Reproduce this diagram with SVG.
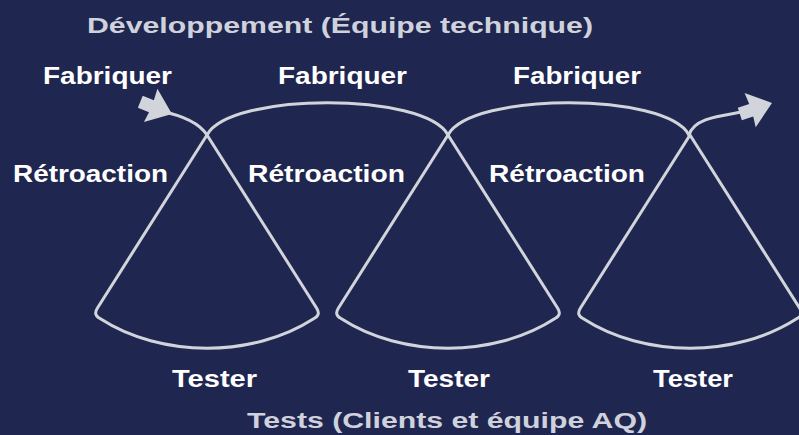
<svg xmlns="http://www.w3.org/2000/svg" width="799" height="435" viewBox="0 0 799 435">
<defs>
<style>
.bg{fill:#1f264f}
.ln{fill:none;stroke:#d2d4db;stroke-width:3;stroke-linecap:round;stroke-linejoin:round}
.ah{fill:#d2d4db}
.lbl{font-family:"Liberation Sans",Arial,sans-serif;font-weight:bold;font-size:23px;fill:#ffffff}
.ttl{font-family:"Liberation Sans",Arial,sans-serif;font-weight:bold;font-size:22px;fill:#cfd2dc}
</style>
<path id="cone" d="M0,0 L-109.7,173.2 Q-114,180 -107,183.5 C-46,223 46,223 107,183.5 Q114,180 109.7,173.2 Z"/>
<polygon id="head" points="0,0 -23,-18 -22,-6 -34,-6 -34,7 -22,7 -23,18"/>
</defs>
<rect class="bg" x="0" y="0" width="799" height="435"/>

<g id="connectors">
<path class="ln" d="M207,135 C230,92 425,92 448,135"/>
<path class="ln" d="M448,135 C471,92 666,92 689,135"/>
<path class="ln" d="M160,111 C185,116 200,124 207,135"/>
<path class="ln" d="M689,135 C694,118 720,116 742,112"/>
<use href="#head" class="ah" transform="translate(172,114) rotate(22)"/>
<use href="#head" class="ah" transform="translate(772,103) rotate(-18)"/>
</g>

<g id="cone1"><use href="#cone" class="ln" transform="translate(207,135)"/></g>
<g id="cone2"><use href="#cone" class="ln" transform="translate(448,135)"/></g>
<g id="cone3"><use href="#cone" class="ln" transform="translate(690,135)"/></g>

<g id="title-dev"><text class="ttl" x="87" y="33" textLength="506" lengthAdjust="spacingAndGlyphs">Développement (Équipe technique)</text></g>
<g id="title-tests"><text class="ttl" x="247" y="428" textLength="400" lengthAdjust="spacingAndGlyphs">Tests (Clients et équipe AQ)</text></g>

<g id="build1"><text class="lbl" x="43" y="84" textLength="129" lengthAdjust="spacingAndGlyphs">Fabriquer</text></g>
<g id="build2"><text class="lbl" x="278" y="84" textLength="129" lengthAdjust="spacingAndGlyphs">Fabriquer</text></g>
<g id="build3"><text class="lbl" x="513" y="84" textLength="128" lengthAdjust="spacingAndGlyphs">Fabriquer</text></g>

<g id="feedback1"><text class="lbl" x="13" y="182" textLength="155" lengthAdjust="spacingAndGlyphs">Rétroaction</text></g>
<g id="feedback2"><text class="lbl" x="248" y="182" textLength="157" lengthAdjust="spacingAndGlyphs">Rétroaction</text></g>
<g id="feedback3"><text class="lbl" x="489" y="182" textLength="156" lengthAdjust="spacingAndGlyphs">Rétroaction</text></g>

<g id="test1"><text class="lbl" x="172" y="387" textLength="85" lengthAdjust="spacingAndGlyphs">Tester</text></g>
<g id="test2"><text class="lbl" x="408" y="387" textLength="82" lengthAdjust="spacingAndGlyphs">Tester</text></g>
<g id="test3"><text class="lbl" x="653" y="387" textLength="80" lengthAdjust="spacingAndGlyphs">Tester</text></g>
</svg>
